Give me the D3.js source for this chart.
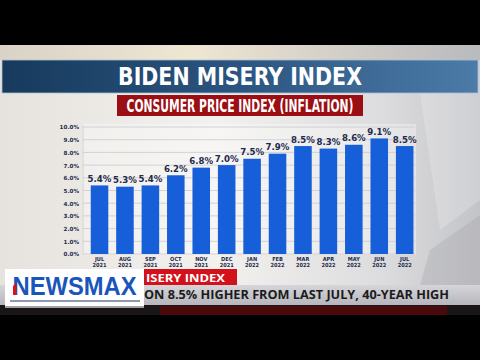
<!DOCTYPE html>
<html>
<head>
<meta charset="utf-8">
<script src="https://cdn.jsdelivr.net/npm/d3@7"></script>
<style>
  body { margin: 0; background: #000; }
  svg { display: block; }
</style>
</head>
<body>
<div id="chart"></div>
<script>
// data read from the broadcast graphic
var months = ["JUL", "AUG", "SEP", "OCT", "NOV", "DEC", "JAN", "FEB", "MAR", "APR", "MAY", "JUN", "JUL"];
var years = ["2021", "2021", "2021", "2021", "2021", "2021", "2022", "2022", "2022", "2022", "2022", "2022", "2022"];
var cpi = [5.4, 5.3, 5.4, 6.2, 6.8, 7.0, 7.5, 7.9, 8.5, 8.3, 8.6, 9.1, 8.5];
var yTicks = [0, 1, 2, 3, 4, 5, 6, 7, 8, 9, 10];

var W = 480, H = 360;
var svg = d3.select("#chart").append("svg")
    .attr("width", W)
    .attr("height", H);

var defs = svg.append("defs");

// studio background
var bg = defs.append("linearGradient").attr("id", "bg")
    .attr("x1", 0).attr("y1", 0).attr("x2", 1).attr("y2", 0);
bg.append("stop").attr("offset", "0%").attr("stop-color", "#e6e3de");
bg.append("stop").attr("offset", "45%").attr("stop-color", "#f3f1ee");
bg.append("stop").attr("offset", "80%").attr("stop-color", "#dcdcde");
bg.append("stop").attr("offset", "100%").attr("stop-color", "#c3c4c8");

var topGlow = defs.append("linearGradient").attr("id", "topGlow")
    .attr("x1", 0).attr("y1", 0).attr("x2", 1).attr("y2", 0);
topGlow.append("stop").attr("offset", "0%").attr("stop-color", "#d9d2c6");
topGlow.append("stop").attr("offset", "40%").attr("stop-color", "#efe6d2");
topGlow.append("stop").attr("offset", "75%").attr("stop-color", "#cfcbc6");
topGlow.append("stop").attr("offset", "100%").attr("stop-color", "#b9babd");

var band = defs.append("linearGradient").attr("id", "band")
    .attr("x1", 0).attr("y1", 0).attr("x2", 1).attr("y2", 0);
band.append("stop").attr("offset", "0%").attr("stop-color", "#173a5c");
band.append("stop").attr("offset", "50%").attr("stop-color", "#2b5580");
band.append("stop").attr("offset", "100%").attr("stop-color", "#4c7ba8");

var ticker = defs.append("linearGradient").attr("id", "ticker")
    .attr("x1", 0).attr("y1", 0).attr("x2", 0).attr("y2", 1);
ticker.append("stop").attr("offset", "0%").attr("stop-color", "#d6d6da");
ticker.append("stop").attr("offset", "100%").attr("stop-color", "#b4b4ba");

svg.append("rect").attr("width", W).attr("height", H).attr("fill", "#000");
svg.append("rect").attr("x", 0).attr("y", 45).attr("width", W).attr("height", 270).attr("fill", "url(#bg)");
svg.append("rect").attr("x", 0).attr("y", 45).attr("width", W).attr("height", 15).attr("fill", "url(#topGlow)");

// geometric shapes on the right
svg.append("path")
    .attr("d", "M420,93 L480,60 L480,200 L440,230 Z")
    .attr("fill", "#ffffff").attr("opacity", 0.2);
svg.append("path")
    .attr("d", "M430,250 L480,215 L480,285 L420,285 Z")
    .attr("fill", "#9fa0a6").attr("opacity", 0.3);

// title band
svg.append("rect").attr("x", 2).attr("y", 60).attr("width", 476).attr("height", 33)
    .attr("fill", "url(#band)").attr("stroke", "#a9c0d6").attr("stroke-width", 0.8);
svg.append("text")
    .attr("x", 240).attr("y", 85)
    .attr("text-anchor", "middle")
    .attr("font-family", "'DejaVu Sans Condensed', 'DejaVu Sans', sans-serif")
    .attr("font-weight", "bold")
    .attr("font-size", 25)
    .attr("textLength", 244).attr("lengthAdjust", "spacingAndGlyphs")
    .attr("fill", "#ffffff")
    .text("BIDEN MISERY INDEX");

svg.append("rect").attr("x", 117).attr("y", 95).attr("width", 246).attr("height", 21).attr("fill", "#9b0e14");
svg.append("text")
    .attr("x", 240).attr("y", 112)
    .attr("text-anchor", "middle")
    .attr("font-family", "'DejaVu Sans Condensed', 'DejaVu Sans', sans-serif")
    .attr("font-weight", "bold")
    .attr("font-size", 17)
    .attr("textLength", 227).attr("lengthAdjust", "spacingAndGlyphs")
    .attr("fill", "#ffffff")
    .text("CONSUMER PRICE INDEX (INFLATION)");

// chart
var x = d3.scaleBand()
    .domain(d3.range(cpi.length))
    .range([86.8, 417.4])
    .paddingInner(0.31)
    .paddingOuter(0.155);

var y = d3.scaleLinear()
    .domain([0, 10])
    .range([254, 127]);

var plot = svg.append("g");

plot.append("rect")
    .attr("x", 82).attr("y", 124).attr("width", 334).attr("height", 131)
    .attr("fill", "#ffffff").attr("opacity", 0.35);

plot.selectAll("line.grid")
    .data(yTicks)
    .enter()
    .append("line")
    .attr("class", "grid")
    .attr("x1", 83).attr("x2", 415)
    .attr("y1", function (d) { return y(d); })
    .attr("y2", function (d) { return y(d); })
    .attr("stroke", "#c9c9cb")
    .attr("stroke-width", 0.8);

plot.append("line")
    .attr("x1", 83).attr("x2", 83).attr("y1", 125).attr("y2", 255)
    .attr("stroke", "#c9c9cb").attr("stroke-width", 0.8);

var yAxis = d3.axisLeft(y)
    .tickValues(yTicks)
    .tickFormat(function (d) { return d.toFixed(1) + "%"; })
    .tickSize(0)
    .tickPadding(0);

var ya = plot.append("g")
    .attr("transform", "translate(79,0)")
    .call(yAxis);
ya.select(".domain").remove();
ya.selectAll("text")
    .attr("dy", "0.35em")
    .attr("fill", "#1e2c4c")
    .attr("font-family", "'DejaVu Sans', sans-serif")
    .attr("font-weight", "bold")
    .attr("font-size", 5.6);

plot.selectAll("rect.bar")
    .data(cpi)
    .enter()
    .append("rect")
    .attr("class", "bar")
    .attr("x", function (d, i) { return x(i); })
    .attr("y", function (d) { return y(d); })
    .attr("width", x.bandwidth())
    .attr("height", function (d) { return y(0) - y(d); })
    .attr("fill", "#165fd9");

plot.selectAll("text.value")
    .data(cpi)
    .enter()
    .append("text")
    .attr("class", "value")
    .attr("x", function (d, i) { return x(i) + x.bandwidth() / 2; })
    .attr("y", function (d) { return y(d) - 3.5; })
    .attr("text-anchor", "middle")
    .attr("font-family", "'DejaVu Sans', sans-serif")
    .attr("font-weight", "bold")
    .attr("font-size", 8.6)
    .attr("fill", "#1c2a4d")
    .text(function (d) { return d.toFixed(1) + "%"; });

var xAxis = d3.axisBottom(x)
    .tickSize(0)
    .tickPadding(0)
    .tickFormat(function (i) { return months[i]; });

var xa = plot.append("g")
    .attr("transform", "translate(0,254)")
    .call(xAxis);
xa.select(".domain").remove();
xa.selectAll("text").remove();
xa.selectAll(".tick").each(function (i) {
    var t = d3.select(this).append("text")
        .attr("text-anchor", "middle")
        .attr("font-family", "'DejaVu Sans Condensed', 'DejaVu Sans', sans-serif")
        .attr("font-weight", "bold")
        .attr("font-size", 5.6)
        .attr("fill", "#1e2c4c");
    t.append("tspan").attr("x", 0).attr("y", 6.5).text(months[i]);
    t.append("tspan").attr("x", 0).attr("y", 13).text(years[i]);
});

// lower third
svg.append("rect").attr("x", 0).attr("y", 285).attr("width", W).attr("height", 21).attr("fill", "url(#ticker)");
svg.append("rect").attr("x", 0).attr("y", 305).attr("width", W).attr("height", 10).attr("fill", "#1a1516");
svg.append("rect").attr("x", 160).attr("y", 306).attr("width", 287).attr("height", 9).attr("fill", "#4a0a0c");

svg.append("rect").attr("x", 144).attr("y", 269).attr("width", 93).attr("height", 16).attr("fill", "#d3111b");
svg.append("text")
    .attr("x", 146).attr("y", 281.5)
    .attr("font-family", "'Open Sans', 'DejaVu Sans', sans-serif")
    .attr("font-weight", "bold")
    .attr("font-size", 10.5)
    .attr("textLength", 79).attr("lengthAdjust", "spacingAndGlyphs")
    .attr("fill", "#ffffff")
    .text("ISERY INDEX");

svg.append("text")
    .attr("x", 144).attr("y", 299)
    .attr("font-family", "'Open Sans', 'DejaVu Sans', sans-serif")
    .attr("font-weight", "bold")
    .attr("font-size", 12.5)
    .attr("textLength", 305).attr("lengthAdjust", "spacingAndGlyphs")
    .attr("fill", "#1b1b1d")
    .text("ON 8.5% HIGHER FROM LAST JULY, 40-YEAR HIGH");

// newsmax logo
svg.append("rect").attr("x", 5).attr("y", 269).attr("width", 139).attr("height", 39).attr("fill", "#ffffff");
svg.append("text")
    .attr("x", 12.5).attr("y", 295)
    .attr("font-family", "'Liberation Sans', Arial, sans-serif")
    .attr("font-weight", "bold")
    .attr("font-size", 25)
    .attr("textLength", 124).attr("lengthAdjust", "spacingAndGlyphs")
    .attr("fill", "#1a55bb")
    .text("NEWSMAX");
svg.append("path").attr("d", "M13,286 L16.5,283 L16.5,295 L13,295 Z").attr("fill", "#d8141e");
svg.append("line").attr("x1", 10).attr("x2", 140).attr("y1", 301).attr("y2", 301)
    .attr("stroke", "#1d3463").attr("stroke-width", 1);
svg.append("line").attr("x1", 5).attr("x2", 144).attr("y1", 307).attr("y2", 307)
    .attr("stroke", "#111").attr("stroke-width", 0.8);
svg.append("line").attr("x1", 5).attr("x2", 144).attr("y1", 309.5).attr("y2", 309.5)
    .attr("stroke", "#111").attr("stroke-width", 0.8);
</script>
</body>
</html>
